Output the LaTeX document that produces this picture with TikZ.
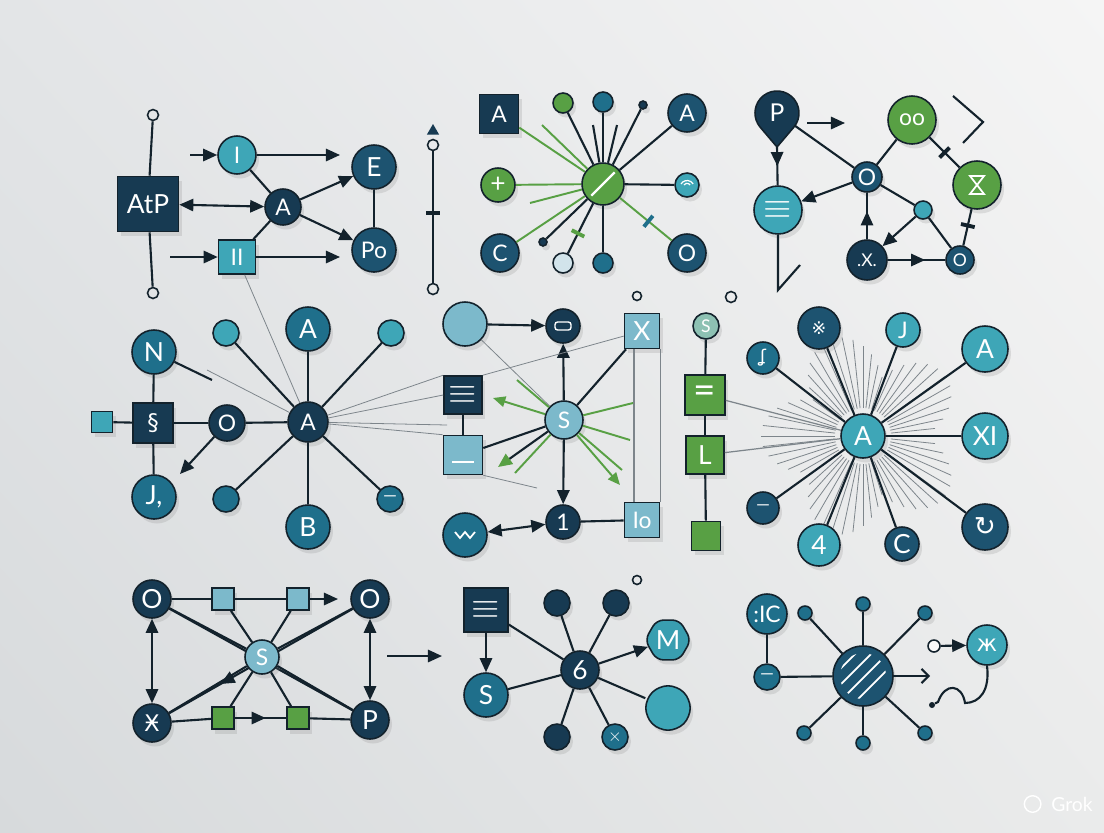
\documentclass[tikz,border=0pt]{standalone}
\usepackage{amsmath, amssymb}
\usepackage{fontspec}
\setmainfont{Lato}
\newfontfamily\glyphfont{DejaVu Sans}
\usepackage{tikz}
\usetikzlibrary{shapes, shapes.geometric, arrows.meta, positioning, shadows, shadings, decorations.markings}
\definecolor{ink}{HTML}{13222C}
\definecolor{navy}{HTML}{173A52}
\definecolor{marine}{HTML}{1D5370}
\definecolor{deep}{HTML}{1F6F8B}
\definecolor{aqua}{HTML}{3EA6B7}
\definecolor{light}{HTML}{7CB9CB}
\definecolor{pale}{HTML}{D2E4EB}
\definecolor{sage}{HTML}{8DC1B3}
\definecolor{leaf}{HTML}{58A044}
\definecolor{bgul}{HTML}{E3E5E7}
\definecolor{bgur}{HTML}{F5F5F5}
\definecolor{bgll}{HTML}{D7DADC}
\definecolor{bglr}{HTML}{EAEBEB}
\newlength{\upx}
\setlength{\upx}{0.02cm}
\tikzset{
    bub/.style={circle, draw=ink, line width=0.9pt, inner sep=0pt, text=white, font=\fontsize{13}{13}\selectfont, drop shadow={opacity=0.2, shadow xshift=0.6mm, shadow yshift=-0.9mm}},
    blk/.style={rectangle, draw=ink, line width=0.9pt, inner sep=0pt, text=white, font=\fontsize{13}{13}\selectfont, drop shadow={opacity=0.2, shadow xshift=0.6mm, shadow yshift=-0.9mm}},
    sz/.style={minimum size=#1\upx},
    cnavy/.style={bub, fill=navy},
    cmarine/.style={bub, fill=marine},
    cdeep/.style={bub, fill=deep},
    caqua/.style={bub, fill=aqua},
    clight/.style={bub, fill=light},
    cpale/.style={bub, fill=pale},
    csage/.style={bub, fill=sage},
    cgreen/.style={bub, fill=leaf},
    snavy/.style={blk, fill=navy},
    saqua/.style={blk, fill=aqua},
    slight/.style={blk, fill=light},
    sgreen/.style={blk, fill=leaf},
    ring/.style={circle, draw=ink, line width=0.9pt, inner sep=0pt, minimum size=11\upx},
    tri/.style={regular polygon, regular polygon sides=3, fill=navy, inner sep=0pt, minimum size=14\upx},
    notch/.style={rectangle, fill=ink, inner sep=0pt, minimum width=2.2pt, minimum height=8pt, sloped},
    fbig/.style={font=\fontsize{15}{15}\selectfont},
    fsm/.style={font=\fontsize{10}{10}\selectfont},
    feq/.style={font=\fontsize{22}{22}\selectfont},
    ln/.style={color=ink, line width=1.2pt},
    gl/.style={color=leaf, line width=1.1pt},
    tn/.style={color=ink!55, line width=0.45pt},
    arr/.style={ln, -{Triangle[length=8pt,width=7pt]}},
    darr/.style={ln, {Triangle[length=8pt,width=7pt]}-{Triangle[length=8pt,width=7pt]}},
    garr/.style={gl, -{Triangle[length=7pt,width=6pt]}},
    midarr/.style={postaction={decorate, decoration={markings, mark=at position #1 with {\arrow{Triangle[length=8pt,width=7pt]}}}}},
    midarr/.default=0.55
}
\begin{document}
\begin{tikzpicture}[x=0.02cm, y=-0.02cm]
\useasboundingbox (0,0) rectangle (1104,832);
\shade[upper left=bgul, upper right=bgur, lower left=bgll, lower right=bglr] (0,0) rectangle (1104,832);

% top left: AtP block
\node[snavy, minimum width=61\upx, minimum height=55\upx, fbig] (atp) at (148,204) {AtP};
\node[caqua, sz=38] (inp) at (237,155) {I};
\node[cmarine, sz=44, fbig] (ext) at (374,167) {E};
\node[cnavy, sz=36] (act) at (283,207) {A};
\node[cmarine, sz=44] (pout) at (374,250) {Po};
\node[saqua, minimum width=37\upx, minimum height=34\upx] (par) at (237,257) {II};
\node[ring] (ra) at (153,115) {};
\node[ring] (rb) at (153,293) {};
\node[ring] (rc) at (433,145) {};
\node[ring] (rd) at (433,289) {};
\node[tri] (tc) at (433,131) {};
\coordinate (inp-in) at (190,155);
\coordinate (inp-out) at (340,155);
\coordinate (par-in) at (170,257);
\coordinate (par-out) at (340,257);
\draw[ln] (ra) -- (atp);
\draw[ln] (atp) -- (rb);
\draw[arr] (inp-in) -- (inp);
\draw[arr] (inp) -- (inp-out);
\draw[ln] (inp) -- (act);
\draw[darr] (atp) -- (act);
\draw[arr] (act) -- (ext);
\draw[arr] (act) -- (pout);
\draw[ln] (par) -- (act);
\draw[ln] (ext) -- (pout);
\draw[arr] (par-in) -- (par);
\draw[arr] (par) -- (par-out);
\draw[ln] (rc) -- (rd) node[notch, pos=0.47] (tk1) {};

% top middle: green hub
\node[cgreen, sz=42] (hub) at (603,184) {};
\draw[white, line width=1.3pt, shorten >=3pt, shorten <=3pt] (hub.south west) -- (hub.north east);
\node[snavy, sz=39] (sqa) at (499,114) {A};
\node[cgreen, sz=20] (gn1) at (563,103) {};
\node[cdeep, sz=20] (tl1) at (603,102) {};
\node[cnavy, sz=8] (dt1) at (643,105) {};
\node[cmarine, sz=38] (cra) at (687,113) {A};
\node[cgreen, sz=34, fbig] (plus) at (498,185) {+};
\node[caqua, sz=24] (wifi) at (687,185) {};
\begin{scope}[shift={(wifi.center)}, x=0.02cm, y=0.02cm]
    \draw[white, line width=0.7pt] (-6,1) arc[start angle=150, end angle=30, radius=7];
    \draw[white, line width=0.7pt] (-3,0) arc[start angle=150, end angle=30, radius=3.5];
\end{scope}
\node[cmarine, sz=38] (crc) at (500,253) {C};
\node[cmarine, sz=38] (cro) at (687,253) {O};
\node[cpale, sz=20] (pl1) at (563,263) {};
\node[cdeep, sz=20] (tl2) at (603,263) {};
\node[cnavy, sz=8] (dt2) at (543,242) {};
\coordinate (h-a) at (542,125);
\coordinate (h-b) at (593,125);
\coordinate (h-c) at (617,125);
\coordinate (h-d) at (530,203);
\draw[gl] (hub) -- (sqa);
\draw[gl] (hub) -- (plus);
\draw[gl] (hub) -- (crc);
\draw[gl] (hub) -- (cro) node[notch, pos=0.55, fill=deep] (tk2) {};
\draw[gl] (hub) -- (h-a);
\draw[gl] (hub) -- (h-d);
\draw[ln] (hub) -- (gn1);
\draw[ln] (hub) -- (tl1);
\draw[ln] (hub) -- (dt1);
\draw[ln] (hub) -- (cra);
\draw[ln] (hub) -- (wifi);
\draw[ln] (hub) -- (pl1) node[notch, pos=0.6, fill=leaf] (tk3) {};
\draw[ln] (hub) -- (tl2);
\draw[ln] (hub) -- (dt2);
\draw[ln] (hub) -- (h-b);
\draw[ln] (hub) -- (h-c);

% top right: pin graph
\begin{scope}[shift={(777,113)}, x=0.02cm, y=0.02cm]
    \draw[ink, fill=navy, line width=0.9pt] (0,-34) -- (-40.3:22) arc[start angle=-40.3, end angle=219.7, radius=22] -- cycle;
\end{scope}
\node[circle, sz=44, inner sep=0pt, text=white, font=\fontsize{14}{14}\selectfont] (pin) at (777,113) {P};
\coordinate (pin-tip) at (777,147);
\node[cgreen, sz=48] (oo) at (912,120) {oo};
\node[cmarine, sz=30] (hubo) at (867,177) {O};
\node[caqua, sz=48, feq] (eqc) at (778,210) {$\equiv$};
\node[cgreen, sz=48] (hg) at (977,185) {};
\draw[white, line width=1pt] (hg.center) +(-7,-9) -- +(7,-9) -- +(-7,9) -- +(7,9) -- cycle;
\node[caqua, sz=18] (sm3) at (923,210) {};
\node[cnavy, sz=40, fsm] (xdot) at (867,260) {.X.};
\node[cmarine, sz=28, fsm] (osm) at (960,260) {O};
\coordinate (p-a) at (807,123);
\coordinate (p-b) at (845,123);
\coordinate (v-a) at (778,290);
\coordinate (v-b) at (800,265);
\draw[ln, midarr=0.5] (pin-tip) -- (eqc);
\draw[ln] (pin) -- (hubo);
\draw[arr] (p-a) -- (p-b);
\draw[arr] (hubo) -- (eqc);
\draw[ln] (hubo) -- (oo);
\draw[ln] (oo) -- (hg) node[notch, pos=0.5] (tk4) {};
\draw[ln] (hubo) -- (sm3);
\draw[arr] (sm3) -- (xdot);
\draw[ln, midarr=0.6] (xdot) -- (hubo);
\draw[ln] (sm3) -- (osm);
\draw[ln, midarr=0.65] (xdot) -- (osm);
\draw[ln] (hg) -- (osm) node[notch, pos=0.45] (tk5) {};
\draw[ln] (eqc) -- (v-a) -- (v-b);
\draw[ln] (953,96) -- (983,122) -- (963,143);

% middle left: A star
\node[cnavy, sz=40] (ca) at (308,422) {A};
\node[cdeep, sz=44, fbig] (cat) at (308,329) {A};
\node[cdeep, sz=44, fbig] (cb) at (308,527) {B};
\node[caqua, sz=26] (s1) at (226,333) {};
\node[caqua, sz=26] (s2) at (391,333) {};
\node[cdeep, sz=26] (s3) at (226,499) {};
\node[cdeep, sz=26, fsm] (s4) at (390,499) {---};
\node[cdeep, sz=44, fbig] (nn) at (154,352) {N};
\node[snavy, sz=40] (gly) at (153,423) {\glyphfont §};
\node[saqua, sz=21] (tiny) at (102,422) {};
\node[cnavy, sz=36] (co) at (227,423) {O};
\node[cdeep, sz=44, fbig] (jj) at (154,497) {J,};
\coordinate (n-e) at (212,380);
\coordinate (n-f) at (207,370);
\coordinate (o-j) at (180,474);
\draw[ln] (nn) -- (gly);
\draw[ln] (gly) -- (jj);
\draw[ln] (tiny) -- (gly);
\draw[ln] (gly) -- (co);
\draw[ln] (co) -- (ca);
\draw[arr] (co) -- (o-j);
\draw[ln] (nn) -- (n-e);
\draw[tn] (n-f) -- (ca);
\draw[tn] (par) -- (ca);
\foreach \k in {cat, cb, s1, s2, s3, s4}
    \draw[ln] (ca) -- (\k);

% centre: S hub with green arrows
\node[clight, sz=44] (big) at (465,324) {};
\node[cnavy, sz=34] (tab) at (563,326) {};
\draw[white, line width=0.8pt, rounded corners=1.5pt] (tab.center) +(-8,4) -- +(-8,-4) -- +(8,-4) -- +(8,4) -- cycle;
\node[slight, sz=35, fbig] (xs) at (642,331) {X};
\node[snavy, sz=38, feq] (eqb) at (463,395) {$\equiv$};
\node[slight, sz=39] (mb) at (463,455) {};
\draw[white, line width=1.2pt] (mb.center) +(-11,7) -- +(11,7);
\node[clight, sz=38] (hs) at (564,420) {S};
\node[cnavy, sz=34] (one) at (563,522) {1};
\node[cdeep, sz=44] (wv) at (465,535) {};
\draw[white, line width=1pt] (wv.center) +(-10,-3) -- +(-5,3) -- +(0,-3) -- +(5,3) -- +(10,-3);
\node[slight, sz=35] (io) at (642,520) {Io};
\node[ring, sz=9] (rr1) at (637,296) {};
\node[ring, sz=11] (rr2) at (731,297) {};
\coordinate (g-a) at (493,398);
\coordinate (g-b) at (517,380);
\coordinate (g-c) at (633,403);
\coordinate (g-d) at (630,440);
\coordinate (g-e) at (620,485);
\coordinate (g-f) at (622,470);
\coordinate (g-g) at (515,473);
\coordinate (g-h) at (498,467);
\coordinate (t-a) at (537,488);
\coordinate (t-b) at (447,425);
\draw[arr] (big) -- (tab);
\draw[tn] (big) -- (hs);
\draw[arr] (hs) -- (tab);
\draw[arr] (hs) -- (one);
\draw[ln] (hs) -- (xs);
\draw[ln] (hs) -- (mb);
\draw[ln] (eqb) -- (mb);
\draw[ln] (one) -- (io);
\draw[darr] (wv) -- (one);
\draw[tn, line width=0.6pt] ([xshift=-8\upx]xs.south) -- ([xshift=-8\upx]io.north);
\draw[tn, line width=0.6pt] (xs.south east) -- (io.north east);
\draw[garr] (hs) -- (g-a);
\draw[gl] (hs) -- (g-b);
\draw[gl] (hs) -- (g-c);
\draw[gl] (hs) -- (g-d);
\draw[garr] (hs) -- (g-e);
\draw[gl] (hs) -- (g-f);
\draw[gl] (hs) -- (g-g);
\draw[ln, -{Triangle[length=8pt,width=7pt,color=leaf]}] (hs) -- (g-h);
\draw[tn] (xs) -- (eqb.north east);
\draw[tn] (mb.south east) -- (t-a);
\draw[tn] (ca) -- (eqb.north west);
\draw[tn] (ca) -- (eqb.west);
\draw[tn] (ca) -- (t-b);
\draw[tn] (ca) -- (mb.north west);

% middle right: sunburst
\coordinate (sun) at (863,436);
\foreach \ang in {0,6,...,354} {
    \pgfmathsetmacro\len{62+40*abs(sin(2.5*\ang))}
    \draw[tn] ([shift={(\ang:28)}]sun) -- ([shift={(\ang:\len)}]sun);
}
\node[caqua, sz=44, fbig] (ha) at (sun) {A};
\node[csage, sz=26, fsm] (ss) at (706,326) {S};
\node[sgreen, sz=40, feq] (eqg) at (705,395) {=};
\node[sgreen, sz=38, fbig] (lg) at (705,455) {L};
\node[sgreen, sz=29] (qg) at (706,536) {};
\node[cdeep, sz=32, fsm] (gl6) at (763,358) {\glyphfont ʆ};
\node[cmarine, sz=42, fsm] (star) at (819,328) {\glyphfont ※};
\node[caqua, sz=34] (j6) at (903,330) {J};
\node[caqua, sz=46, fbig] (a6) at (985,349) {A};
\node[caqua, sz=46, fbig] (xi) at (985,436) {XI};
\node[cmarine, sz=32, fsm] (dash6) at (763,508) {---};
\node[caqua, sz=42, fbig] (four) at (819,545) {4};
\node[cmarine, sz=34, fbig] (c6) at (902,544) {C};
\node[cmarine, sz=46, fbig] (swirl) at (985,527) {\glyphfont ↻};
\draw[ln] (ss) -- (eqg);
\draw[ln] (eqg) -- (lg);
\draw[ln] (lg) -- (qg);
\draw[tn, line width=0.7pt] (eqg) -- (ha);
\draw[tn, line width=0.7pt] (lg) -- (ha);
\foreach \k in {gl6, star, j6, a6, xi, dash6, four, c6, swirl}
    \draw[ln] (ha) -- (\k);

% bottom left: O-P frame
\node[cnavy, sz=38, fbig] (ol) at (152,599) {O};
\node[cnavy, sz=38, fbig] (or) at (370,599) {O};
\node[cnavy, sz=38] (xl) at (152,723) {\glyphfont Ӿ};
\node[cnavy, sz=38, fbig] (pr) at (370,720) {P};
\draw[ln] (ol) -- (pr);
\draw[ln, midarr=0.72] (or) -- (xl);
\node[clight, sz=34] (sc) at (262,657) {S};
\node[slight, sz=22] (qa) at (223,599) {};
\node[slight, sz=22] (qb) at (298,599) {};
\node[sgreen, sz=22] (ga) at (223,718) {};
\node[sgreen, sz=22] (gb) at (298,718) {};
\coordinate (or-in) at (338,599);
\coordinate (ra-a) at (387,656);
\coordinate (ra-b) at (442,656);
\draw[ln] (ol) -- (qa);
\draw[ln] (qa) -- (qb);
\draw[arr] (qb) -- (or-in);
\draw[ln] (xl) -- (ga);
\draw[ln, midarr=0.6] (ga) -- (gb);
\draw[ln] (gb) -- (pr);
\draw[darr] (ol) -- (xl);
\draw[darr] (or) -- (pr);
\draw[ln] (ol) -- (sc);
\draw[ln] (or) -- (sc);
\draw[ln] (sc) -- (xl);
\draw[ln] (sc) -- (pr);
\foreach \k in {qa, qb, ga, gb}
    \draw[ln] (sc) -- (\k);
\draw[arr] (ra-a) -- (ra-b);

% bottom middle: 6 hub
\node[ring, sz=9] (rr3) at (637,580) {};
\node[snavy, sz=44, feq] (eqn) at (486,610) {$\equiv$};
\node[cdeep, sz=44, fbig] (sb) at (486,695) {S};
\node[cnavy, sz=38, fbig] (six) at (580,670) {6};
\node[cnavy, sz=26] (u1) at (557,603) {};
\node[cnavy, sz=26] (u2) at (616,603) {};
\node[bub, fill=aqua!85!deep, regular polygon, regular polygon sides=6, rounded corners=4pt, minimum size=46\upx, fbig] (mm) at (668,640) {M};
\node[bub, fill=aqua, regular polygon, regular polygon sides=8, rounded corners=5pt, minimum size=48\upx] (blob) at (668,708) {};
\node[cnavy, sz=26] (u3) at (557,737) {};
\node[cdeep, sz=26, fsm] (u4) at (615,737) {$\times$};
\draw[arr] (eqn) -- (sb);
\draw[ln] (eqn) -- (six);
\draw[ln] (sb) -- (six);
\draw[arr] (six) -- (mm);
\foreach \k in {u1, u2, blob, u3, u4}
    \draw[ln] (six) -- (\k);

% bottom right: hatched hub
\node[cmarine, sz=60] (hat) at (863,676) {};
\begin{scope}
    \clip (hat.center) circle[radius=23];
    \foreach \k in {-15,-7,1,9}
        \draw[white, line width=1pt] (hat.center) +(-30+\k,30+\k) -- +(30+\k,-30+\k);
\end{scope}
\node[cdeep, sz=40] (ic) at (767,614) {:IC};
\node[cdeep, sz=26, fsm] (dm) at (767,677) {---};
\node[cdeep, sz=14] (e1) at (805,613) {};
\node[cdeep, sz=14] (e2) at (863,604) {};
\node[cdeep, sz=14] (e3) at (925,613) {};
\node[cdeep, sz=14] (e4) at (804,733) {};
\node[cdeep, sz=14] (e5) at (863,743) {};
\node[cdeep, sz=14] (e6) at (925,733) {};
\node[ring, sz=12, fill=white!95!gray] (rr4) at (934,646) {};
\node[caqua, sz=40] (zh) at (987,645) {\glyphfont ж};
\node[circle, fill=ink, inner sep=0pt, minimum size=6\upx] (dt9) at (932,705) {};
\coordinate (hat-out) at (930,676);
\draw[ln] (ic) -- (dm);
\draw[ln] (dm) -- (hat);
\draw[ln, -{Straight Barb[length=4pt]}] (hat) -- (hat-out);
\draw[arr] (rr4) -- (zh);
\draw[ln] (zh.south) .. controls (990,690) and (980,703) .. (965,703) .. controls (962,684) and (945,682) .. (938,702) -- (dt9);
\foreach \k in {e1, e2, e3, e4, e5, e6}
    \draw[ln] (hat) -- (\k);

% watermark
\node[text=white, font=\fontsize{11}{11}\selectfont] (grok) at (1072,804) {Grok};
\node[circle, draw=white, line width=0.8pt, minimum size=12\upx, left=2pt of grok] (grokmark) {};
\end{tikzpicture}
\end{document}
